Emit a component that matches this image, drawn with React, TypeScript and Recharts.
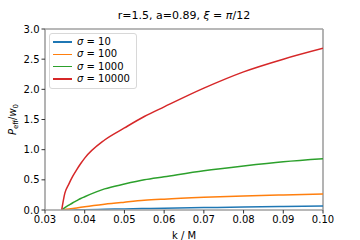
import { LineChart, Line, XAxis, YAxis, ReferenceLine } from 'recharts';

const kValues = [0.0342, 0.035, 0.036, 0.037, 0.038, 0.039, 0.04, 0.045, 0.05, 0.055, 0.06, 0.07, 0.08, 0.09, 0.1];
const sigma10 = [0, 0.0005, 0.001, 0.002, 0.003, 0.0045, 0.006, 0.012, 0.018, 0.024, 0.03, 0.04, 0.05, 0.059, 0.068];
const sigma100 = [0, 0.008, 0.018, 0.027, 0.035, 0.045, 0.055, 0.097, 0.13, 0.16, 0.18, 0.21, 0.233, 0.25, 0.265];
const sigma1000 = [0, 0.04, 0.08, 0.12, 0.155, 0.19, 0.22, 0.35, 0.43, 0.5, 0.55, 0.65, 0.73, 0.8, 0.85];
const sigma10000 = [0, 0.28, 0.43, 0.56, 0.67, 0.77, 0.86, 1.16, 1.36, 1.55, 1.71, 2.02, 2.29, 2.5, 2.68];

const xTicks = [0.03, 0.04, 0.05, 0.06, 0.07, 0.08, 0.09, 0.1];
const yTicks = [0, 0.5, 1, 1.5, 2, 2.5, 3];

const seriesNames = ['10', '100', '1000', '10000'];
const colors = ['#1f77b4', '#ff7f0e', '#2ca02c', '#d62728'];

const data = kValues.map((k, i) => ({
  k,
  s0: sigma10[i],
  s1: sigma100[i],
  s2: sigma1000[i],
  s3: sigma10000[i],
}));

const font = 'DejaVu Sans, sans-serif';
const spine = '#a0a0a0';

function LegendBox() {
  return (
    <div style={{
      position: 'absolute', left: 49, top: 33,
      border: '1px solid #d8d8d8', borderRadius: 3, background: '#fff',
      padding: '2px 6px 3px 3px', fontFamily: font, fontSize: 10, lineHeight: '12.3px',
    }}>
      {seriesNames.map((n, i) => (
        <div key={n} style={{ display: 'flex', alignItems: 'center', whiteSpace: 'nowrap' }}>
          <span style={{ flex: '0 0 19px', height: 1.5, background: colors[i], marginRight: 5 }} />
          <span><i>σ</i> = {n}</span>
        </div>
      ))}
    </div>
  );
}

function YLabel({ viewBox }: any) {
  const cx = 16;
  const cy = viewBox.y + viewBox.height / 2;
  return (
    <text x={cx} y={cy} transform={`rotate(-90 ${cx} ${cy})`} textAnchor="middle"
      fontFamily={font} fontSize={10} fill="#000">
      <tspan fontStyle="italic">P</tspan>
      <tspan fontSize={7} dy={2}>eff</tspan>
      <tspan dy={-2}>/</tspan>
      <tspan fontStyle="italic">w</tspan>
      <tspan fontSize={7} dy={2}>0</tspan>
    </text>
  );
}

export default function App() {
  return (
    <div style={{ position: 'fixed', left: 0, top: 0, width: 360, height: 240, background: '#fff' }}>
      <div style={{
        position: 'absolute', top: 9, left: 0, width: 368, textAlign: 'center',
        fontFamily: font, fontSize: 11, color: '#000',
      }}>
        r=1.5, a=0.89, <i>ξ</i> = <i>π</i>/12
      </div>
      <LineChart width={360} height={240} data={data}
        margin={{ top: 29, right: 37, bottom: 0, left: 0 }}>
        <XAxis dataKey="k" type="number" domain={[0.03, 0.1]} ticks={xTicks}
          tickFormatter={(v: number) => v.toFixed(2)} height={30} tickSize={3.5}
          allowDataOverflow
          axisLine={{ stroke: spine, strokeWidth: 1.6 }} tickLine={{ stroke: '#333' }}
          tick={{ fontFamily: font, fontSize: 10, fill: '#000' }}
          label={{ value: 'k / M', position: 'insideBottom', offset: 1, fontFamily: font, fontSize: 10, fill: '#000' }} />
        <YAxis type="number" domain={[0, 3]} ticks={yTicks} width={45} tickSize={3.5}
          tickFormatter={(v: number) => v.toFixed(1)} allowDataOverflow
          axisLine={{ stroke: spine, strokeWidth: 1.6 }} tickLine={{ stroke: '#333' }}
          tick={{ fontFamily: font, fontSize: 10, fill: '#000' }}
          label={<YLabel />} />
        <ReferenceLine y={3} stroke={spine} strokeWidth={1.6} />
        <ReferenceLine x={0.1} stroke={spine} strokeWidth={1.6} />
        {['s0', 's1', 's2', 's3'].map((key, i) => (
          <Line key={key} dataKey={key} type="monotone" stroke={colors[i]} strokeWidth={1.5}
            dot={false} isAnimationActive={false} />
        ))}
      </LineChart>
      <LegendBox />
    </div>
  );
}
